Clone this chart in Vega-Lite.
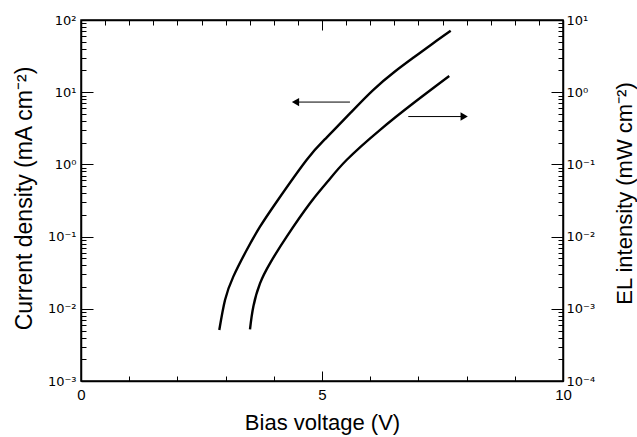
{
  "$schema": "https://vega.github.io/schema/vega-lite/v6.json",
  "width": 482,
  "height": 361,
  "autosize": "none",
  "padding": {"left": 81, "top": 20, "right": 74, "bottom": 56},
  "background": "white",
  "config": {
    "view": {"stroke": "black", "strokeWidth": 1.5},
    "font": "Liberation Sans",
    "axis": {
      "domainColor": "black",
      "domainWidth": 1.5,
      "tickColor": "black",
      "tickWidth": 1,
      "labelColor": "black",
      "labelFont": "DejaVu Sans",
      "labelFontSize": 13,
      "titleColor": "black",
      "titleFont": "Liberation Sans",
      "titleFontSize": 22,
      "titleFontWeight": "normal",
      "grid": false
    }
  },
  "datasets": {
    "j": [
      {"V": 2.869, "J": 0.00508},
      {"V": 2.988, "J": 0.01324},
      {"V": 3.16, "J": 0.0279},
      {"V": 3.438, "J": 0.0652},
      {"V": 3.714, "J": 0.137},
      {"V": 4.06, "J": 0.304},
      {"V": 4.68, "J": 1.151},
      {"V": 5.1, "J": 2.37},
      {"V": 5.6, "J": 5.25},
      {"V": 6.06, "J": 10.72},
      {"V": 6.5, "J": 19.05},
      {"V": 6.9, "J": 30.2},
      {"V": 7.3, "J": 47.3},
      {"V": 7.67, "J": 70.8}
    ],
    "el": [
      {"V": 3.506, "EL": 0.00052},
      {"V": 3.575, "EL": 0.00107},
      {"V": 3.714, "EL": 0.00225},
      {"V": 3.921, "EL": 0.00427},
      {"V": 4.268, "EL": 0.00998},
      {"V": 4.751, "EL": 0.0289},
      {"V": 5.1, "EL": 0.056},
      {"V": 5.51, "EL": 0.115},
      {"V": 6.2, "EL": 0.299},
      {"V": 6.9, "EL": 0.708},
      {"V": 7.64, "EL": 1.675}
    ],
    "arrows": [
      {"V": 5.58, "V2": 4.5, "J": 7.3, "dir": "left", "head": 4.45},
      {"V": 6.79, "V2": 7.9, "J": 4.6, "dir": "right", "head": 7.95}
    ]
  },
  "layer": [
    {
      "layer": [
        {
          "data": {"name": "j"},
          "mark": {"type": "line", "color": "black", "strokeWidth": 2.4, "interpolate": "natural"},
          "encoding": {
            "x": {
              "field": "V", "type": "quantitative",
              "scale": {"domain": [0, 10], "nice": false},
              "axis": {
                "orient": "bottom",
                "title": "Bias voltage (V)",
                "titleBaseline": "top",
                "titleY": 31,
                "values": [0, 0.5, 1, 1.5, 2, 2.5, 3, 3.5, 4, 4.5, 5, 5.5, 6, 6.5, 7, 7.5, 8, 8.5, 9, 9.5, 10],
                "labelExpr": "datum.value % 5 == 0 ? datum.label : ''",
                "labelFont": "Liberation Sans",
                "labelFontSize": 15,
                "labelPadding": 16,
                "tickSize": {"condition": {"test": "datum.value % 5 == 0", "value": -10}, "value": -5},
                "labelFlush": false
              }
            },
            "y": {
              "field": "J", "type": "quantitative",
              "scale": {"type": "log", "domain": [0.001, 100], "nice": false},
              "axis": {
                "orient": "left",
                "title": "Current density  (mA cm⁻²)",
                "titleFontSize": 23,
                "titleX": -45,
                "titleY": 178,
                "titleBaseline": "bottom",
                "values": [0.001, 0.002, 0.003, 0.004, 0.005, 0.006, 0.007, 0.008, 0.009, 0.01, 0.02, 0.03, 0.04, 0.05, 0.06, 0.07, 0.08, 0.09, 0.1, 0.2, 0.3, 0.4, 0.5, 0.6, 0.7, 0.8, 0.9, 1, 2, 3, 4, 5, 6, 7, 8, 9, 10, 20, 30, 40, 50, 60, 70, 80, 90, 100],
                "labelExpr": "abs(log(datum.value)/LN10 - round(log(datum.value)/LN10)) < 0.001 ? '10' + ['⁻⁴','⁻³','⁻²','⁻¹','⁰','¹','²'][round(log(datum.value)/LN10) + 4] : ''",
                "labelPadding": 17,
                "labelFlush": false,
                "tickSize": {"condition": {"test": "abs(log(datum.value)/LN10 - round(log(datum.value)/LN10)) < 0.001", "value": -12}, "value": -5}
              }
            }
          }
        },
        {
          "data": {"name": "arrows"},
          "mark": {"type": "rule", "color": "black", "strokeWidth": 1},
          "encoding": {
            "x": {"field": "V", "type": "quantitative"},
            "x2": {"field": "V2"},
            "y": {"field": "J", "type": "quantitative"}
          }
        },
        {
          "data": {"name": "arrows"},
          "mark": {"type": "point", "filled": true, "color": "black", "size": 70, "opacity": 1},
          "encoding": {
            "x": {"field": "head", "type": "quantitative"},
            "y": {"field": "J", "type": "quantitative"},
            "shape": {"field": "dir", "type": "nominal", "scale": {"domain": ["left", "right"], "range": ["triangle-left", "triangle-right"]}, "legend": null}
          }
        }
      ]
    },
    {
      "data": {"name": "el"},
      "mark": {"type": "line", "color": "black", "strokeWidth": 2.4, "interpolate": "natural"},
      "encoding": {
        "x": {
          "field": "V", "type": "quantitative",
          "axis": {
            "orient": "top",
            "title": null,
            "labels": false,
            "values": [0, 0.5, 1, 1.5, 2, 2.5, 3, 3.5, 4, 4.5, 5, 5.5, 6, 6.5, 7, 7.5, 8, 8.5, 9, 9.5, 10],
            "tickSize": {"condition": {"test": "datum.value % 5 == 0", "value": -10}, "value": -5}
          }
        },
        "y": {
          "field": "EL", "type": "quantitative",
          "scale": {"type": "log", "domain": [0.0001, 10], "nice": false},
          "axis": {
            "orient": "right",
            "title": "EL intensity  (mW cm⁻²)",
            "titleAngle": 270,
            "titleX": 68,
            "titleY": 173,
            "titleBaseline": "alphabetic",
            "values": [0.0001, 0.0002, 0.0003, 0.0004, 0.0005, 0.0006, 0.0007, 0.0008, 0.0009, 0.001, 0.002, 0.003, 0.004, 0.005, 0.006, 0.007, 0.008, 0.009, 0.01, 0.02, 0.03, 0.04, 0.05, 0.06, 0.07, 0.08, 0.09, 0.1, 0.2, 0.3, 0.4, 0.5, 0.6, 0.7, 0.8, 0.9, 1, 2, 3, 4, 5, 6, 7, 8, 9, 10],
            "labelExpr": "abs(log(datum.value)/LN10 - round(log(datum.value)/LN10)) < 0.001 ? '10' + ['⁻⁴','⁻³','⁻²','⁻¹','⁰','¹','²'][round(log(datum.value)/LN10) + 4] : ''",
            "labelPadding": 15,
            "labelFlush": false,
            "tickSize": {"condition": {"test": "abs(log(datum.value)/LN10 - round(log(datum.value)/LN10)) < 0.001", "value": -12}, "value": -5}
          }
        }
      }
    }
  ],
  "resolve": {"scale": {"y": "independent"}}
}
